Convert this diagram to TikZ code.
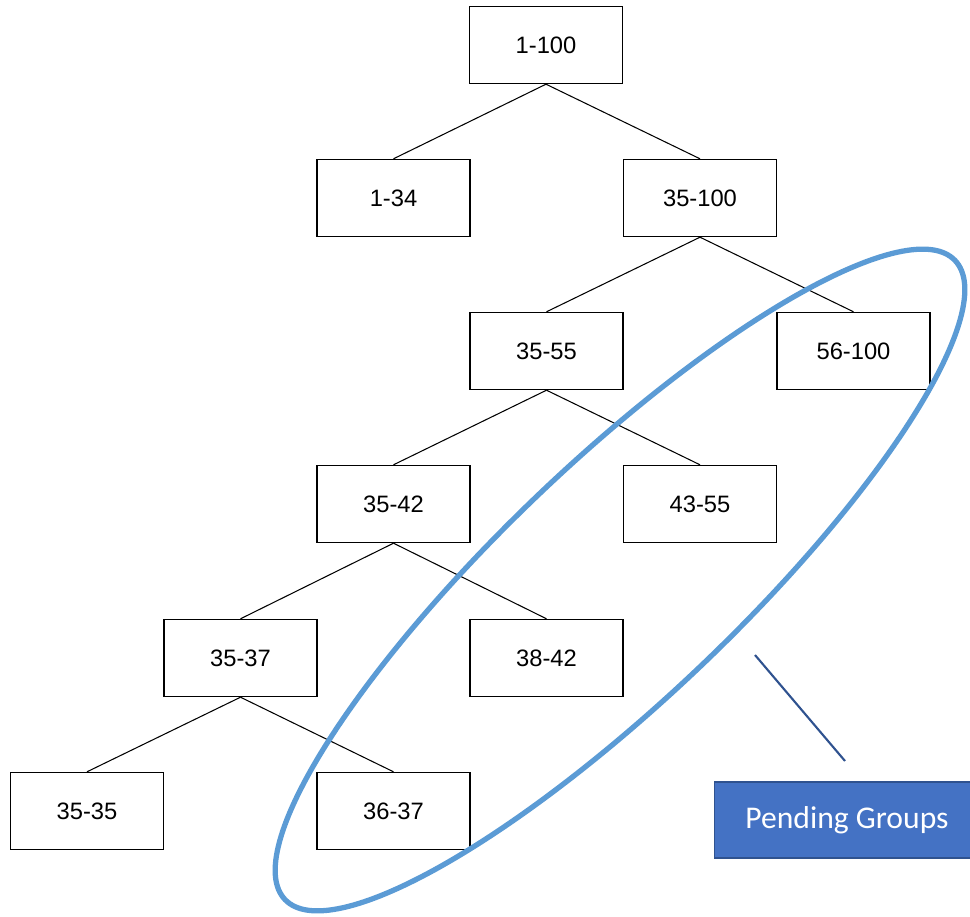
\documentclass[tikz,border=0pt]{standalone}
\usepackage{fontspec}
\setmainfont{Liberation Sans}
\newfontfamily\calibrifont{Carlito}
\usepackage{xcolor}
\usepackage{tikz}
\definecolor{ringblue}{HTML}{5B9BD5}
\definecolor{tagblue}{HTML}{4472C4}
\definecolor{tagedge}{HTML}{2F528F}
\tikzset{
	grp/.style={draw, line width=0.8pt, minimum width=3.06cm, minimum height=1.54cm, font=\fontsize{13.5}{16}\selectfont},
	link/.style={line width=0.6pt},
}

\begin{document}
\begin{tikzpicture}
	
	\useasboundingbox (0,0) rectangle (19.4,-18.34);
	\node[grp] (g1to100) at (10.92,-0.9) {1-100};
	\node[grp] (g1to34) at (7.87,-3.96) {1-34};
	\node[grp] (g35to100) at (14.0,-3.96) {35-100};
	\node[grp] (g35to55) at (10.93,-7.02) {35-55};
	\node[grp] (g56to100) at (17.07,-7.02) {56-100};
	\node[grp] (g35to42) at (7.87,-10.08) {35-42};
	\node[grp] (g43to55) at (14.0,-10.08) {43-55};
	\node[grp] (g35to37) at (4.81,-13.16) {35-37};
	\node[grp] (g38to42) at (10.93,-13.16) {38-42};
	\node[grp] (g35to35) at (1.74,-16.22) {35-35};
	\node[grp] (g36to37) at (7.87,-16.22) {36-37};
	\draw[link] (g1to100.south) -- (g1to34.north);
	\draw[link] (g1to100.south) -- (g35to100.north);
	\draw[link] (g35to100.south) -- (g35to55.north);
	\draw[link] (g35to100.south) -- (g56to100.north);
	\draw[link] (g35to55.south) -- (g35to42.north);
	\draw[link] (g35to55.south) -- (g43to55.north);
	\draw[link] (g35to42.south) -- (g35to37.north);
	\draw[link] (g35to42.south) -- (g38to42.north);
	\draw[link] (g35to37.south) -- (g35to35.north);
	\draw[link] (g35to37.south) -- (g36to37.north);
	% ring round the pending groups
	\draw[ringblue, line width=3pt, rotate around={43.65:(12.4,-11.6)}] (12.4,-11.6) ellipse (9.26cm and 2.36cm);
	% callout
	\node[draw=tagedge, fill=tagblue, text=white, line width=0.8pt, minimum width=5.3cm, minimum height=1.52cm, font=\calibrifont\fontsize{18}{21}\selectfont] (pending) at (16.94,-16.4) {Pending Groups};
	\coordinate (tagA) at (15.1,-13.1);
	\coordinate (tagB) at (16.9,-15.22);
	\draw[tagedge, line width=1.2pt] (tagA) -- (tagB);
	\end{tikzpicture}
\end{document}
